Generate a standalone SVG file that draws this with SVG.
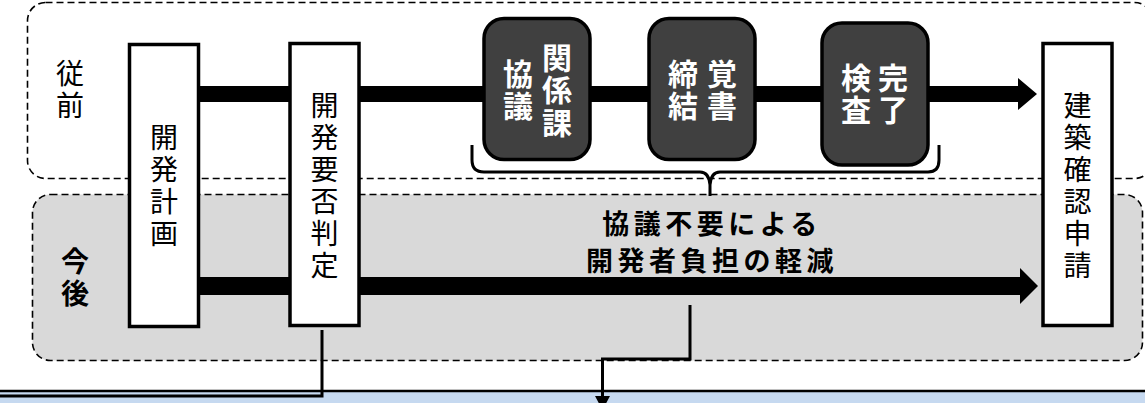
<svg xmlns="http://www.w3.org/2000/svg" width="1145" height="403" viewBox="0 0 1145 403">
<style>
.zone{stroke:#000;stroke-width:1.6;stroke-dasharray:7 4}
.node{fill:#fff;stroke:#000;stroke-width:3.5}
.dark{fill:#404040;stroke:#000;stroke-width:3.5}
.vt{font-family:"Noto Sans CJK JP","Noto Sans",sans-serif;font-size:28px;text-anchor:middle;fill:#000;writing-mode:vertical-rl;letter-spacing:4px}
.wt{font-family:"Noto Sans CJK JP","Noto Sans",sans-serif;font-size:30px;font-weight:bold;text-anchor:middle;fill:#fff;writing-mode:vertical-rl;letter-spacing:2.5px}
.bt{font-family:"Noto Sans CJK JP","Noto Sans",sans-serif;font-size:27px;font-weight:bold;text-anchor:middle;fill:#000;letter-spacing:4.5px}
.conn{fill:none;stroke:#000;stroke-width:3}
</style>
<g id="zones">
<rect class="zone" x="27.5" y="2.5" width="1125" height="176" rx="18" fill="#fff"/>
<rect class="zone" x="32.5" y="194.5" width="1110" height="166" rx="18" fill="#d9d9d9"/>
<text class="vt" x="70" y="91">従前</text>
<text class="vt" font-weight="bold" x="75" y="279.5">今後</text>
</g>
<g id="flows">
<rect x="199" y="86" width="820" height="16" fill="#000"/>
<polygon points="1018,78 1037,94 1018,110" fill="#000"/>
<rect x="199" y="277" width="822" height="18" fill="#000"/>
<polygon points="1020,268 1038,286 1020,304" fill="#000"/>
</g>
<g id="node-kaihatsu-keikaku">
<rect class="node" x="129.5" y="44.5" width="69" height="282"/>
<text class="vt" x="164" y="187">開発計画</text>
</g>
<g id="node-yohi-hantei">
<rect class="node" x="290" y="43.5" width="69" height="282"/>
<text class="vt" x="324.5" y="187">開発要否判定</text>
</g>
<g id="node-kakunin-shinsei">
<rect class="node" x="1043" y="43.5" width="69" height="282"/>
<text class="vt" x="1077.5" y="187">建築確認申請</text>
</g>
<g id="node-kyogi">
<rect class="dark" x="484" y="18.5" width="106" height="141" rx="20"/>
<text class="wt" x="557" y="91">関係課</text>
<text class="wt" x="518" y="91">協議</text>
</g>
<g id="node-oboegaki">
<rect class="dark" x="649" y="18.5" width="106" height="141" rx="20"/>
<text class="wt" x="722" y="91">覚書</text>
<text class="wt" x="683" y="91">締結</text>
</g>
<g id="node-kanryo">
<rect class="dark" x="822" y="23" width="106" height="142" rx="20"/>
<text class="wt" x="893" y="95">完了</text>
<text class="wt" x="856" y="95">検査</text>
</g>
<g id="brace">
<path class="conn" stroke-width="2" d="M472,145 V160 Q472,172 484,172 H700 Q709,172 710,185 V196 M710,185 Q711,172 720,172 H928 Q939,172 939,160 V145"/>
</g>
<g id="note">
<text class="bt" x="712" y="234">協議不要による</text>
<text class="bt" x="712" y="271">開発者負担の軽減</text>
</g>
<g id="band">
<rect x="-2" y="391" width="1150" height="20" fill="#c6d9f0" stroke="#000" stroke-width="2.5"/>
</g>
<g id="connectors">
<path class="conn" d="M322,330 V396 H-2"/>
<path class="conn" d="M690,305 V359 H602.5 V398"/>
<polygon points="595,396 610,396 602.5,410" fill="#000"/>
</g>
</svg>
